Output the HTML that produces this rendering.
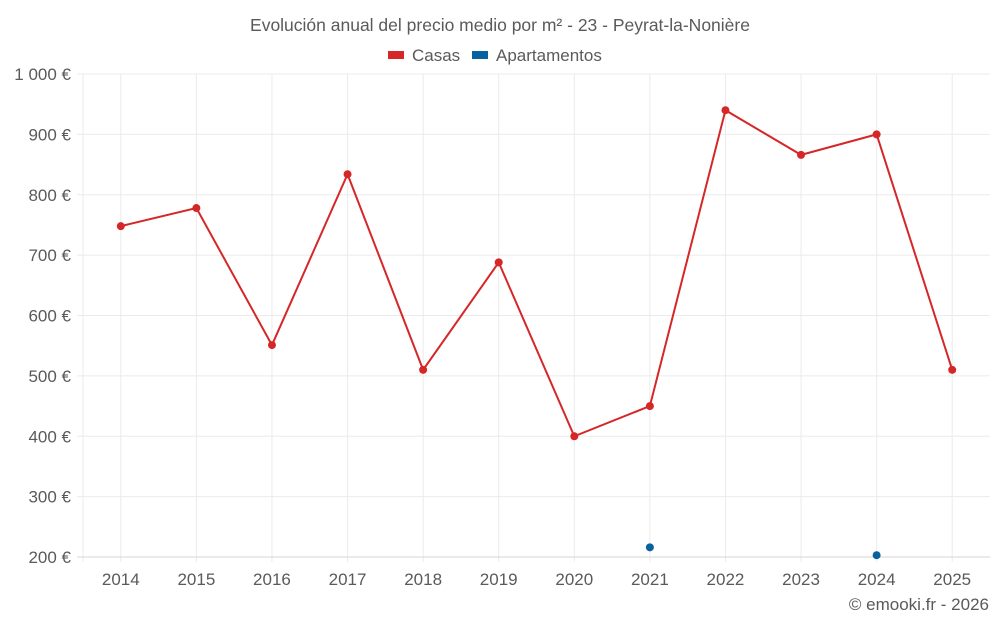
<!DOCTYPE html>
<html><head><meta charset="utf-8"><style>
body{margin:0;background:#fff;font-family:"Liberation Sans",sans-serif;}
svg text{font-family:"Liberation Sans",sans-serif;fill:#5a5a5a;}
</style></head><body>
<svg id="chart" width="1000" height="625">
<text x="500" y="31" text-anchor="middle" font-size="17.5">Evolución anual del precio medio por m² - 23 - Peyrat-la-Nonière</text>
<g>
<g><rect x="388" y="51" width="16" height="8" fill="#d62728"/><text x="412" y="61" font-size="17">Casas</text></g>
<g><rect x="472" y="51" width="16" height="8" fill="#0862a0"/><text x="496" y="61" font-size="17">Apartamentos</text></g>
</g>
<g id="grid"></g><g id="axes"></g><g id="series"></g>
<text x="989" y="610" text-anchor="end" font-size="17">© emooki.fr - 2026</text>
</svg>
<script>
const categories=["2014","2015","2016","2017","2018","2019","2020","2021","2022","2023","2024","2025"];
const casas=[748,778,551,834,510,688,400,450,940,866,900,510];
const apartamentos=[null,null,null,null,null,null,null,216,null,null,203,null];
const yTicks=[200,300,400,500,600,700,800,900,1000];
const yTickLabels=["200 €","300 €","400 €","500 €","600 €","700 €","800 €","900 €","1 000 €"];
const L=83,R=990,T=74,B=557,ymin=200,ymax=1000;
const bw=(R-L)/categories.length;
const x=i=>L+bw*(i+0.5);
const y=v=>B-(v-ymin)/(ymax-ymin)*(B-T);
const NS="http://www.w3.org/2000/svg";
function mk(tag,attrs,parent){const e=document.createElementNS(NS,tag);for(const k in attrs)e.setAttribute(k,attrs[k]);document.getElementById(parent).appendChild(e);return e;}
const lg=mk("line",{x1:L,x2:L,y1:T,y2:B+5,stroke:"#ebebeb"},"grid");


categories.forEach((c,i)=>{
 const g=mk("line",{x1:x(i),x2:x(i),y1:T,y2:B+5,stroke:"#ebebeb"},"grid");
 
 
 const tx=mk("text",{x:x(i),y:585,"text-anchor":"middle","font-size":17},"axes");tx.textContent=c;
 
 
});
yTicks.forEach((t,i)=>{
 const g=mk("line",{x1:L-6,x2:R,y1:y(t),y2:y(t),stroke:i==0?"#d6d6d6":"#ebebeb","stroke-width":1},"grid");
 
 
 const tx=mk("text",{x:71,y:y(t)+6,"text-anchor":"end","font-size":17},"axes");tx.textContent=yTickLabels[i];
 
 
});
const pts=casas.map((v,i)=>x(i)+","+y(v)).join(" ");
const pl=mk("polyline",{points:pts,fill:"none",stroke:"#d62728","stroke-width":2},"series");


casas.forEach((v,i)=>{
 const c=mk("circle",{cx:x(i),cy:y(v),r:4,fill:"#d62728"},"series");
 
 
});
apartamentos.forEach((v,i)=>{
 if(v==null)return;
 const c=mk("circle",{cx:x(i),cy:y(v),r:4,fill:"#0862a0"},"series");
 
 
});
</script>
</body></html>
